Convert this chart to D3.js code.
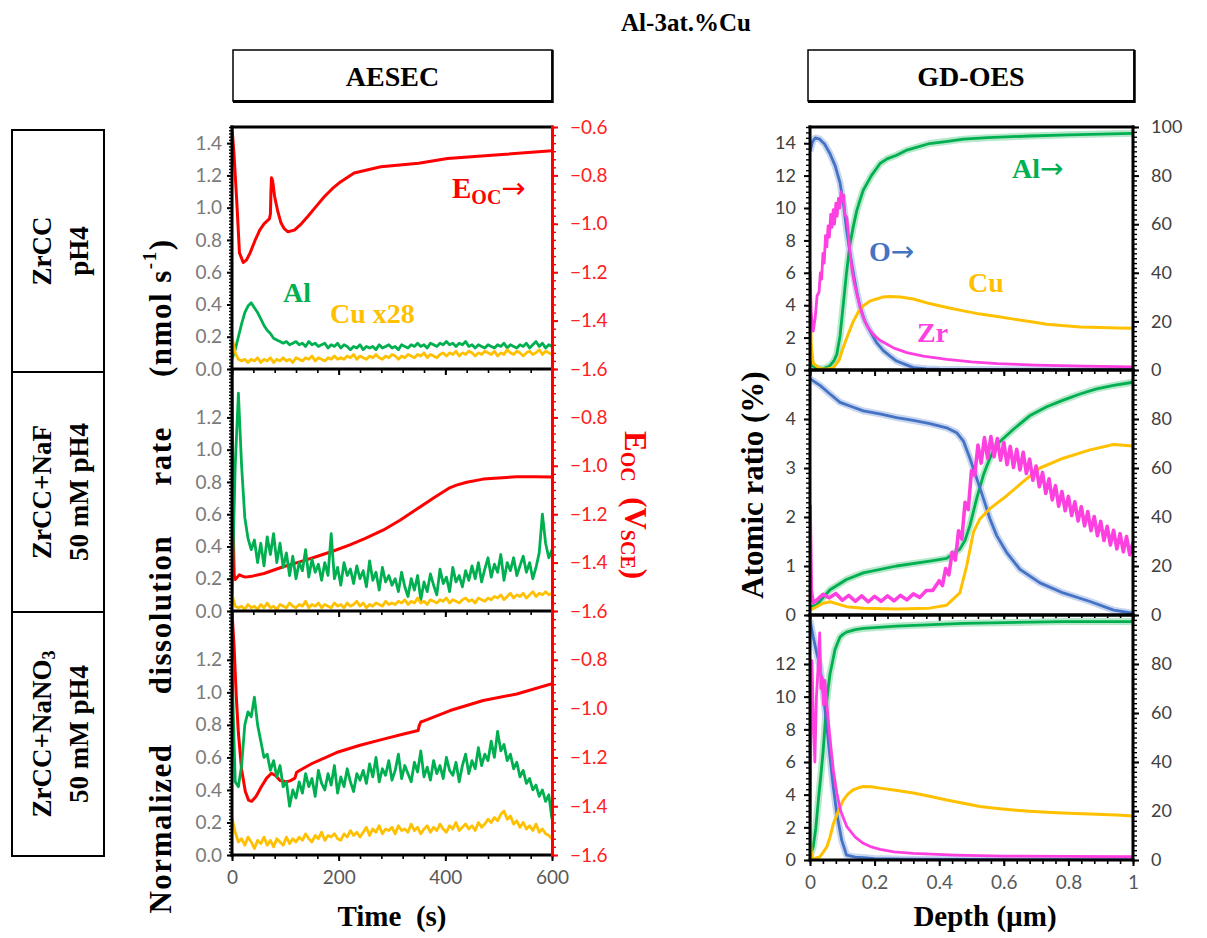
<!DOCTYPE html>
<html><head><meta charset="utf-8">
<script src="https://cdn.jsdelivr.net/npm/d3@7/dist/d3.min.js"></script>
<style>body{margin:0;background:#fff;}svg{display:block;}text{white-space:pre;}</style>
</head><body>
<svg id="c" width="1207" height="938"></svg>
<script>
// ---------------- DATA ----------------
const rowLabels = [["ZrCC","pH4"],["ZrCC+NaF","50 mM pH4"],["ZrCC+NaNO|3","50 mM pH4"]];
const aesecRateTicks = [[0,0.2,0.4,0.6,0.8,1.0,1.2,1.4],[0,0.2,0.4,0.6,0.8,1.0,1.2],[0,0.2,0.4,0.6,0.8,1.0,1.2]];
const aesecEocTicks = [[-1.6,-1.4,-1.2,-1.0,-0.8,-0.6],[-1.6,-1.4,-1.2,-1.0,-0.8],[-1.6,-1.4,-1.2,-1.0,-0.8]];
const timeTicks = [0,200,400,600];
const gdLeftTicks = [[0,2,4,6,8,10,12,14],[0,1,2,3,4],[0,2,4,6,8,10,12]];
const gdRightTicks = [[0,20,40,60,80,100],[0,20,40,60,80],[0,20,40,60,80]];
const depthTicks = [0,0.2,0.4,0.6,0.8,1];

const timeS = [0,6,12,18,24,30,36,42,48,54,60,66,72,78,84,90,96,102,108,114,120,126,132,138,144,150,156,162,168,174,180,186,192,198,204,210,216,222,228,234,240,246,252,258,264,270,276,282,288,294,300,306,312,318,324,330,336,342,348,354,360,366,372,378,384,390,396,402,408,414,420,426,432,438,444,450,456,462,468,474,480,486,492,498,504,510,516,522,528,534,540,546,552,558,564,570,576,582,588,594,600];

// Panel 1: ZrCC pH4
const alRate1 = [0.06,0.12,0.2,0.28,0.35,0.39,0.41,0.38,0.35,0.31,0.27,0.24,0.22,0.19,0.18,0.17,0.16,0.17,0.15,0.16,0.17,
0.15,0.16,0.14,0.17,0.15,0.16,0.14,0.15,0.16,0.13,0.15,0.14,0.16,0.13,0.15,0.14,0.12,0.14,0.13,0.15,
0.12,0.14,0.13,0.14,0.12,0.15,0.13,0.14,0.15,0.13,0.14,0.12,0.15,0.14,0.13,0.15,0.14,0.16,0.14,0.15,
0.13,0.16,0.15,0.14,0.16,0.15,0.17,0.15,0.16,0.14,0.16,0.15,0.17,0.14,0.15,0.13,0.15,0.14,0.13,0.15,
0.14,0.13,0.15,0.14,0.16,0.13,0.15,0.14,0.13,0.15,0.14,0.16,0.13,0.15,0.17,0.14,0.16,0.13,0.15,0.14];
const cuRate1 = [0.2,0.1,0.06,0.05,0.06,0.04,0.06,0.05,0.07,0.04,0.06,
0.05,0.07,0.04,0.06,0.05,0.07,0.05,0.06,0.04,0.07,0.06,0.05,0.07,0.06,0.08,0.05,0.07,0.06,0.05,0.07,0.06,0.08,0.06,
0.07,0.06,0.08,0.07,0.09,0.06,0.08,0.07,0.06,0.08,0.07,0.09,0.07,0.06,0.08,0.07,0.09,0.08,0.06,0.08,
0.07,0.09,0.08,0.07,0.09,0.08,0.1,0.07,0.09,0.08,0.07,0.09,0.1,
0.08,0.1,0.09,0.11,0.08,0.1,0.09,0.11,0.1,0.08,0.1,0.09,0.11,0.1,0.09,0.11,0.08,0.1,0.09,0.12,
0.1,0.09,0.11,0.1,0.08,0.1,0.11,0.09,0.1,0.12,0.09,0.11,0.1,0.09];
const eocT1 = [0,4,9,14,21,27,34,43,52,60,65,70,72,73,74,76,80,86,92,98,105,117,130,142,157,173,188,204,229,279,350,404,500,600];
const eocV1 = [-0.6,-0.72,-0.91,-1.12,-1.16,-1.15,-1.12,-1.07,-1.026,-1.0,-0.99,-0.98,-0.96,-0.87,-0.81,-0.82,-0.888,-0.95,-0.997,-1.02,-1.033,-1.026,-1.0,-0.97,-0.93,-0.888,-0.855,-0.826,-0.79,-0.764,-0.75,-0.73,-0.715,-0.698];

// Panel 2: ZrCC+NaF
const alRate2 = [0.1,0.9,1.35,0.9,0.58,0.45,0.38,0.44,0.3,0.42,0.28,0.46,0.35,0.48,0.3,0.42,0.27,0.36,
0.22,0.34,0.2,0.3,0.25,0.38,0.21,0.32,0.24,0.29,0.19,0.3,0.22,0.48,0.2,0.27,0.16,0.3,0.22,0.26,
0.17,0.28,0.2,0.25,0.15,0.31,0.19,0.24,0.13,0.27,0.18,0.22,0.16,
0.2,0.12,0.24,0.15,0.09,0.2,0.13,0.22,0.07,0.18,0.12,0.23,0.16,0.1,0.26,0.17,0.21,0.12,0.27,0.18,
0.22,0.15,0.25,0.19,0.28,
0.2,0.3,0.18,0.26,0.33,0.21,0.29,0.24,0.35,0.19,0.3,0.25,0.33,0.22,0.28,0.34,0.24,0.3,0.2,0.27,
0.36,0.6,0.42,0.33,0.38];
const cuRate2 = [0.1,0.03,0.02,
0.03,0.01,0.04,0.02,0.03,0.01,0.04,0.02,0.05,0.02,0.03,0.01,0.04,0.03,0.02,0.05,0.03,0.02,0.04,0.03,
0.06,0.02,0.04,0.03,0.05,0.02,0.04,0.03,0.02,0.05,0.03,0.04,0.02,0.05,0.03,0.04,0.06,0.03,0.05,0.02,
0.04,0.03,0.05,0.04,0.03,0.06,0.04,0.05,
0.04,0.06,0.05,0.07,0.04,0.06,0.05,0.08,0.05,0.06,0.04,0.07,0.06,0.05,0.07,0.06,0.08,0.05,0.07,0.06,
0.05,0.07,0.08,0.06,0.07,0.05,0.08,0.07,0.06,0.08,
0.07,0.09,0.08,0.1,0.07,0.09,0.11,0.08,0.1,0.09,0.11,0.08,0.1,0.12,0.09,0.11,0.1,0.12,0.1,0.11];
const eocT2 = [0,2,4,6,10,14,18,25,40,60,96,130,159,190,221,250,284,315,346,380,409,421,440,471,500,534,570,600];
const eocV2 = [-0.62,-1.2,-1.45,-1.47,-1.46,-1.45,-1.455,-1.46,-1.455,-1.445,-1.417,-1.395,-1.375,-1.352,-1.327,-1.3,-1.265,-1.225,-1.18,-1.13,-1.09,-1.08,-1.068,-1.055,-1.05,-1.045,-1.045,-1.046];

// Panel 3: ZrCC+NaNO3
const alRate3 = [1.15,0.45,0.42,0.55,0.8,0.88,0.85,0.97,0.8,0.7,0.6,0.62,0.52,0.58,0.48,0.55,0.42,0.45,0.3,0.4,0.35,
0.45,0.38,0.5,0.42,0.47,0.36,0.52,0.44,0.4,0.5,0.43,0.55,0.38,0.48,0.42,0.53,0.45,0.39,0.5,0.46,
0.52,0.44,0.56,0.48,0.6,0.45,0.53,0.49,0.58,0.46,0.52,0.62,0.47,0.55,0.5,0.45,0.57,0.51,0.64,0.48,
0.54,0.46,0.58,0.5,0.55,0.47,0.6,0.52,0.49,0.57,0.45,0.55,0.62,0.5,0.58,0.53,0.66,0.55,0.62,0.58,
0.7,0.6,0.76,0.64,0.68,0.58,0.62,0.53,0.57,0.48,0.52,0.44,0.47,0.4,0.43,0.36,0.4,0.33,0.37,0.22];
const cuRate3 = [0.23,0.14,0.08,
0.1,0.06,0.11,0.08,0.04,0.09,0.07,0.11,0.06,0.09,0.05,0.1,0.08,0.06,0.11,0.07,0.1,0.08,
0.11,0.09,0.13,0.1,0.08,0.12,0.1,0.14,0.09,0.12,0.11,0.13,0.1,0.09,0.13,0.11,0.15,0.12,0.14,0.11,
0.14,0.17,0.12,0.16,0.14,0.18,0.13,0.16,0.15,0.17,0.13,0.18,0.15,0.16,0.14,0.19,0.15,0.17,0.13,0.16,
0.18,0.14,0.17,0.15,0.19,0.16,0.14,0.18,0.16,0.2,0.15,0.17,0.19,0.16,0.18,0.15,0.2,0.17,0.19,0.22,
0.2,0.23,0.21,0.25,
0.27,0.22,0.24,0.19,0.21,0.17,0.2,0.16,0.18,0.15,0.19,0.14,0.16,0.13,0.12,0.1];
const eocT3 = [0,4,8,12,18,25,31,37,45,55,65,74,82,90,102,110,118,121,125,150,196,240,284,320,349,351,354,360,409,471,534,600];
const eocV3 = [-0.6,-0.75,-0.95,-1.1,-1.25,-1.34,-1.375,-1.38,-1.36,-1.32,-1.285,-1.265,-1.275,-1.295,-1.30,-1.295,-1.285,-1.262,-1.256,-1.225,-1.18,-1.15,-1.125,-1.105,-1.09,-1.07,-1.055,-1.05,-1.008,-0.967,-0.94,-0.898];

// GD-OES panel 1 (O, Al on right axis; Cu, Zr on left axis)
const oD1 = [0,0.008,0.016,0.03,0.045,0.062,0.078,0.093,0.104,0.114,0.124,0.134,0.145,0.155,0.17,0.186,0.205,0.227,0.25,0.268,0.3,0.32,0.36,0.4,0.5,0.7,1.0];
const oV1 = [90,94,95.5,95,93,89,84,77,68,57,48,40,32,26,20,16,11.5,8,5.5,3.7,2,1,0.5,0.3,0.2,0.1,0.1];
const alD1 = [0,0.01,0.02,0.04,0.06,0.075,0.083,0.093,0.103,0.113,0.124,0.134,0.145,0.155,0.165,0.19,0.217,0.24,0.268,0.3,0.37,0.42,0.475,0.55,0.68,0.8,0.9,1.0];
const alV1 = [4,1.5,0.8,0.5,1.5,4,6.5,14,27,40,52,59,65.7,70,74,80,85,87,88.4,90.5,93.2,94,95,95.6,96.3,96.8,97.1,97.4];
const cuD1 = [0,0.004,0.01,0.03,0.05,0.072,0.09,0.103,0.12,0.134,0.15,0.165,0.185,0.206,0.225,0.248,0.28,0.32,0.37,0.424,0.475,0.527,0.58,0.63,0.68,0.733,0.78,0.836,0.9,0.95,1.0];
const cuV1 = [4.5,1.5,0.4,0.1,0.05,0.14,0.6,1.4,2.3,3.0,3.6,3.97,4.25,4.38,4.5,4.54,4.5,4.38,4.1,3.86,3.65,3.45,3.3,3.14,3.0,2.83,2.74,2.66,2.62,2.6,2.58];
const zrD1 = [0,0.004,0.01,0.016,0.022,0.028,0.032,0.036,0.04,0.044,0.048,0.052,0.056,0.06,0.064,0.068,0.072,0.076,0.08,0.084,0.088,0.092,0.096,0.1,0.104,0.108,0.114,0.119,0.124,0.13,0.137,0.145,0.155,0.165,0.18,0.196,0.215,0.237,0.26,0.3,0.35,0.424,0.5,0.58,0.7,0.85,1.0];
const zrV1 = [6.1,3.5,2.4,3.2,4.6,4.8,6.0,5.6,7.2,6.6,8.3,7.6,8.9,8.2,9.6,8.8,9.9,9.0,10.3,9.5,10.6,10.0,11.0,10.4,10.8,9.6,9.4,8.4,7.2,6.2,5.4,4.7,3.9,3.24,2.6,2.2,1.85,1.6,1.35,1.07,0.85,0.66,0.5,0.39,0.3,0.24,0.19];

// GD-OES panel 2
const oD2 = [0,0.031,0.062,0.093,0.13,0.165,0.22,0.268,0.32,0.371,0.423,0.454,0.475,0.495,0.516,0.537,0.557,0.578,0.609,0.65,0.712,0.784,0.867,0.94,1.0];
const oV2 = [96.4,93.7,90.2,86.8,85,83.3,82,80.6,79.4,78.1,76.4,74.4,71,64,55.8,47.5,39.3,32.4,25.5,18.6,13.1,9,5.5,2,0.7];
const alD2 = [0,0.02,0.062,0.113,0.165,0.268,0.371,0.423,0.464,0.48,0.495,0.516,0.537,0.557,0.578,0.63,0.68,0.733,0.784,0.836,0.887,0.94,1.0];
const alV2 = [3.4,4.1,10.3,14.5,17.2,20,22,23.1,26.9,30.5,36.5,47.5,57.2,64,69.6,75.8,81.3,85,87.7,90.2,92.3,93.7,95];
const cuD2 = [0,0.041,0.062,0.113,0.165,0.268,0.37,0.423,0.464,0.485,0.506,0.526,0.557,0.61,0.66,0.712,0.784,0.867,0.94,1.0];
const cuV2 = [0.1,0.24,0.27,0.17,0.14,0.12,0.14,0.2,0.45,1.0,1.69,1.96,2.17,2.44,2.72,3.0,3.2,3.37,3.48,3.45];
const zrD2 = [0,0.004,0.01,0.02,0.04,0.06,0.08,0.1,0.12,0.14,0.16,0.18,0.2,0.22,0.24,0.26,0.28,0.3,0.32,0.34,0.36,0.38,
0.4,0.41,0.42,0.43,0.44,0.45,0.46,0.47,0.48,0.49,0.5,0.51,0.52,0.53,0.54,0.55,0.56,0.57,0.58,0.59,
0.6,0.61,0.62,0.63,0.64,0.65,0.66,0.67,0.68,0.69,0.7,0.71,0.72,0.73,0.74,0.75,0.76,0.77,0.78,0.79,
0.8,0.81,0.82,0.83,0.84,0.85,0.86,0.87,0.88,0.89,0.9,0.91,0.92,0.93,0.94,0.95,0.96,0.97,0.98,0.99,1.0];
const zrV2 = [2.25,0.5,0.25,0.3,0.42,0.35,0.44,0.3,0.4,0.28,0.39,0.27,0.38,0.28,0.39,0.29,0.4,0.31,0.43,0.36,0.5,0.5,
0.7,0.6,0.95,0.82,1.28,1.12,1.72,1.55,2.3,2.15,2.95,2.85,3.47,3.1,3.62,3.2,3.64,3.23,3.6,3.16,
3.52,3.07,3.44,3.01,3.38,2.96,3.32,2.89,3.18,2.75,3.04,2.62,2.91,2.48,2.78,2.35,2.64,2.22,2.52,2.13,
2.42,2.03,2.31,1.92,2.21,1.82,2.11,1.72,2.01,1.62,1.91,1.52,1.81,1.43,1.73,1.35,1.66,1.29,1.6,1.23,1.48];

// GD-OES panel 3
const oD3 = [0,0.01,0.02,0.031,0.042,0.052,0.062,0.072,0.083,0.098,0.113,0.14,0.165,0.2,0.3,0.5,1.0];
const oV3 = [98,91,85,78.9,67,54.4,42,30,19,8.2,2,1.2,1,0.6,0.3,0.2,0.1];
const alD3 = [0,0.01,0.018,0.026,0.034,0.041,0.047,0.052,0.057,0.062,0.07,0.077,0.085,0.093,0.103,0.113,0.14,0.165,0.268,0.475,0.784,1.0];
const alV3 = [1.4,5.4,13,24.5,35,45,56,65,71,76,81,85.7,88.5,91,92.2,93,94,94.5,95.5,96.6,97.3,97.3];
const cuD3 = [0,0.004,0.01,0.031,0.052,0.062,0.072,0.088,0.103,0.118,0.134,0.15,0.165,0.19,0.217,0.27,0.32,0.37,0.423,0.475,0.526,0.58,0.629,0.68,0.732,0.8,0.887,0.95,1.0];
const cuV3 = [1.6,0.4,0.05,0.2,0.8,1.4,2.2,3.0,3.67,4.05,4.3,4.42,4.5,4.48,4.4,4.25,4.1,3.9,3.67,3.47,3.27,3.15,3.06,2.98,2.92,2.86,2.8,2.75,2.7];
const zrD3 = [0,0.003,0.006,0.01,0.015,0.02,0.025,0.03,0.034,0.038,0.042,0.046,0.05,0.055,0.06,0.065,0.072,0.083,0.095,0.114,0.14,0.165,0.19,0.217,0.26,0.32,0.45,0.6,0.8,1.0];
const zrV3 = [1.5,8,12.2,9,6,10,11.8,13.9,10.5,11.2,9.5,11,10,8.9,7.8,6.8,5.5,4.1,3.0,2.04,1.4,1.02,0.8,0.65,0.5,0.4,0.3,0.24,0.22,0.2];

// ---------------- DRAWING ----------------
const C = {al:"#00b050", cu:"#ffc000", eoc:"#ff0000", o:"#4472c4", zr:"#ff40e0", alLight:"#b8e8cb", oLight:"#c8d6ef"};
const serif = "'Liberation Serif','Times New Roman',serif";
const sans = "Lato,'Open Sans',sans-serif";
const svg = d3.select("#c");
const defs = svg.append("defs");

function txt(x,y,s,size,opts={}){
  const t = svg.append("text").attr("x",x).attr("y",y).text(s)
    .style("font-family",opts.family||serif).style("font-weight",opts.weight||"bold")
    .style("font-size",size+"px").attr("fill",opts.fill||"#000")
    .attr("text-anchor",opts.anchor||"start");
  if(opts.transform) t.attr("transform",opts.transform);
  return t;
}
function line(g, xs, ys, xs_, ys_, color, w){
  g.append("path").datum(xs.map((d,i)=>[d,ys[i]])).attr("fill","none").attr("stroke",color)
   .attr("stroke-width",w).attr("stroke-linejoin","round")
   .attr("d", d3.line().x(d=>xs_(d[0])).y(d=>ys_(d[1])));
}
function yAxis(g, scale, side, x, majors, minorStep, color, labelColor, fmt, fs, pad, majLen, minLen){
  const dom = scale.domain();
  const minors = d3.range(dom[0], dom[1]+1e-9, minorStep);
  const fn = side==="left" ? d3.axisLeft : d3.axisRight;
  const gm = g.append("g").attr("transform",`translate(${x},0)`)
    .call(fn(scale).tickValues(minors).tickSize(minLen).tickFormat("").tickSizeOuter(0));
  gm.select(".domain").remove();
  gm.selectAll("line").attr("stroke",color).attr("stroke-width",1.4);
  const gM = g.append("g").attr("transform",`translate(${x},0)`)
    .call(fn(scale).tickValues(majors).tickSize(majLen).tickPadding(pad).tickFormat(fmt).tickSizeOuter(0));
  gM.select(".domain").remove();
  gM.selectAll("line").attr("stroke",color).attr("stroke-width",2);
  gM.selectAll("text").attr("fill",labelColor).style("font-size",fs+"px").style("font-family",sans);
}
function xAxis(g, scale, y, majors, minorStep, fmt, showLabels, fs){
  const dom = scale.domain();
  const minors = d3.range(dom[0], dom[1]+1e-9, minorStep);
  const gm = g.append("g").attr("transform",`translate(0,${y})`)
    .call(d3.axisBottom(scale).tickValues(minors).tickSize(4).tickFormat("").tickSizeOuter(0));
  gm.select(".domain").remove();
  gm.selectAll("line").attr("stroke","#000").attr("stroke-width",1.6);
  const gM = g.append("g").attr("transform",`translate(0,${y})`)
    .call(d3.axisBottom(scale).tickValues(majors).tickSize(6).tickPadding(10).tickFormat(showLabels?fmt:"").tickSizeOuter(0));
  gM.select(".domain").remove();
  gM.selectAll("line").attr("stroke","#000").attr("stroke-width",2);
  gM.selectAll("text").attr("fill","#595959").style("font-size",fs+"px").style("font-family",sans);
}
function seg(x1,y1,x2,y2,color,w){
  svg.append("line").attr("x1",x1).attr("y1",y1).attr("x2",x2).attr("y2",y2).attr("stroke",color).attr("stroke-width",w);
}

// Title
txt(686,31,"Al-3at.%Cu",25,{anchor:"middle"});

// header boxes
function headBox(x0,x1,label){
  svg.append("rect").attr("x",x0).attr("y",50).attr("width",x1-x0).attr("height",51).attr("fill","#fff").attr("stroke","#000").attr("stroke-width",1.5);
  seg(x0,101.5,x1+1,101.5,"#000",3); seg(x1+0.5,50,x1+0.5,103,"#000",2.5);
  txt((x0+x1)/2,86,label,28,{anchor:"middle"});
}
headBox(233,552,"AESEC");
headBox(808,1134,"GD-OES");

// row label boxes
const rowTops=[130,372,612], rowBots=[372,612,856];
rowLabels.forEach((lab,i)=>{
  svg.append("rect").attr("x",12).attr("y",rowTops[i]).attr("width",92).attr("height",rowBots[i]-rowTops[i])
    .attr("fill","none").attr("stroke","#000").attr("stroke-width",2);
  const cy=(rowTops[i]+rowBots[i])/2;
  lab.forEach((s,j)=>{
    const cx = j===0?42:79;
    const t = svg.append("text").attr("transform",`translate(${cx},${cy}) rotate(-90)`)
      .attr("text-anchor","middle").attr("dominant-baseline","central")
      .style("font-family",serif).style("font-weight","bold").style("font-size","27px");
    const parts = s.split("|");
    t.append("tspan").text(parts[0]);
    if(parts[1]) t.append("tspan").attr("dy",7).style("font-size","18px").text(parts[1]);
  });
});

// ---- AESEC panels ----
const lTops=[127,369,611], lBots=[369,611,855];
const xT = d3.scaleLinear().domain([0,600]).range([232,552]);
const aesec = [
  {al:alRate1,cu:cuRate1,eT:eocT1,eV:eocV1},
  {al:alRate2,cu:cuRate2,eT:eocT2,eV:eocV2},
  {al:alRate3,cu:cuRate3,eT:eocT3,eV:eocV3}];
aesec.forEach((p,i)=>{
  const yL = d3.scaleLinear().domain([0,1.5]).range([lBots[i],lTops[i]]);
  const yR = d3.scaleLinear().domain([-1.6,-0.6]).range([lBots[i],lTops[i]]);
  defs.append("clipPath").attr("id","cl"+i).append("rect").attr("x",232).attr("y",lTops[i]).attr("width",320).attr("height",lBots[i]-lTops[i]);
  const g = svg.append("g").attr("clip-path",`url(#cl${i})`);
  line(g,p.eT,p.eV,xT,yR,C.eoc,3);
  line(g,timeS,p.al,xT,yL,C.al,2.8);
  line(g,timeS,p.cu,xT,yL,C.cu,2.8);
  const ga = svg.append("g");
  yAxis(ga,yL,"left",232,aesecRateTicks[i],0.02,"#000","#7a7a7a",d3.format(".1f"),19,5,5,3);
  yAxis(ga,yR,"right",552,aesecEocTicks[i],0.2/6,C.eoc,"#ff2020",d3.format(".1f"),19,12,6,4);
  xAxis(ga,xT,lBots[i],timeTicks,40,d3.format("d"),i===2,19);
  if(i===0) seg(230.5,lTops[i],553,lTops[i],"#000",3);
  seg(230.5,lBots[i],552,lBots[i],"#000",3);
});
seg(232,125.5,232,856.5,"#000",3);
seg(552.5,125.5,552.5,856.5,C.eoc,3);

// ---- GD-OES panels ----
const rTops=[127,370,615], rBots=[370,615,860];
const xD = d3.scaleLinear().domain([0,1]).range([810,1133]);
const gd = [
  {lmax:15,o:[oD1,oV1],al:[alD1,alV1],cu:[cuD1,cuV1],zr:[zrD1,zrV1],minor:1/3,zw:2.8},
  {lmax:5, o:[oD2,oV2],al:[alD2,alV2],cu:[cuD2,cuV2],zr:[zrD2,zrV2],minor:0.1,zw:3.6},
  {lmax:15,o:[oD3,oV3],al:[alD3,alV3],cu:[cuD3,cuV3],zr:[zrD3,zrV3],minor:1/3,zw:2.8}];
gd.forEach((p,i)=>{
  const yL = d3.scaleLinear().domain([0,p.lmax]).range([rBots[i],rTops[i]]);
  const yR = d3.scaleLinear().domain([0,100]).range([rBots[i],rTops[i]]);
  defs.append("clipPath").attr("id","cr"+i).append("rect").attr("x",810).attr("y",rTops[i]).attr("width",323).attr("height",rBots[i]-rTops[i]);
  const g = svg.append("g").attr("clip-path",`url(#cr${i})`);
  line(g,p.al[0],p.al[1],xD,yR,C.alLight,7);
  line(g,p.o[0],p.o[1],xD,yR,C.oLight,7);
  line(g,p.al[0],p.al[1],xD,yR,C.al,2.8);
  line(g,p.o[0],p.o[1],xD,yR,C.o,2.8);
  line(g,p.cu[0],p.cu[1],xD,yL,C.cu,3);
  line(g,p.zr[0],p.zr[1],xD,yL,C.zr,p.zw);
  const ga = svg.append("g");
  yAxis(ga,yL,"left",810,gdLeftTicks[i],p.minor,"#000","#404040",d3.format("d"),18,8,6,4);
  yAxis(ga,yR,"right",1133,gdRightTicks[i],2,"#000","#404040",d3.format("d"),18,12,6,4);
  xAxis(ga,xD,rBots[i],depthTicks,0.04,d=>(d===0||d===1)?String(d):d.toFixed(1),i===2,19);
  seg(808.5,rTops[i],1134.5,rTops[i],"#000",3);
  seg(808.5,rBots[i],1134.5,rBots[i],"#000",3);
});
seg(810,125.5,810,861.5,"#000",3);
seg(1133,125.5,1133,861.5,"#000",3);

// ---- axis titles ----
txt(392,926,"Time  (s)",29,{anchor:"middle"});
txt(985,926,"Depth (µm)",29,{anchor:"middle"});
{
  const t = svg.append("text").attr("transform","translate(160,576) rotate(-90)")
    .attr("text-anchor","middle").attr("dominant-baseline","central")
    .style("font-family",serif).style("font-weight","bold").style("font-size","31px")
    .style("letter-spacing","1.5px").style("word-spacing","40px");
  t.append("tspan").text("Normalized dissolution rate (nmol");
  t.append("tspan").style("word-spacing","0px").text(" s");
  t.append("tspan").attr("dy",-11).style("font-size","19px").text("-1");
  t.append("tspan").attr("dy",11).text(")");
}
{
  const t = svg.append("text").attr("transform","translate(636,505) rotate(90)")
    .attr("text-anchor","middle").attr("dominant-baseline","central").attr("fill",C.eoc)
    .style("font-family",serif).style("font-weight","bold").style("font-size","31px");
  t.append("tspan").text("E");
  t.append("tspan").attr("dy",8).style("font-size","20px").text("OC");
  t.append("tspan").attr("dy",-8).text("  (V");
  t.append("tspan").attr("dy",8).style("font-size","20px").text("SCE");
  t.append("tspan").attr("dy",-8).text(")");
}
{
  svg.append("text").attr("transform","translate(752,485) rotate(-90)")
    .attr("text-anchor","middle").attr("dominant-baseline","central")
    .style("font-family",serif).style("font-weight","bold").style("font-size","31px").text("Atomic ratio (%)");
}

// ---- in-plot annotations ----
{
  const t = txt(452,198,"E",29,{fill:C.eoc});
  t.append("tspan").attr("dy",6).style("font-size","20px").text("OC");
  t.append("tspan").attr("dy",-6).style("font-family","'DejaVu Sans',sans-serif").style("font-weight","normal").text("→");
}
txt(283,302,"Al",28,{fill:C.al});
txt(330,323,"Cu x28",28,{fill:C.cu});
{
  const t = txt(1012,178,"Al",28,{fill:C.al});
  t.append("tspan").style("font-family","'DejaVu Sans',sans-serif").style("font-weight","normal").text("→");
  const t2 = txt(869,261,"O",28,{fill:C.o});
  t2.append("tspan").style("font-family","'DejaVu Sans',sans-serif").style("font-weight","normal").text("→");
}
txt(968,292,"Cu",28,{fill:C.cu});
txt(917,342,"Zr",28,{fill:C.zr});
</script>
</body></html>
